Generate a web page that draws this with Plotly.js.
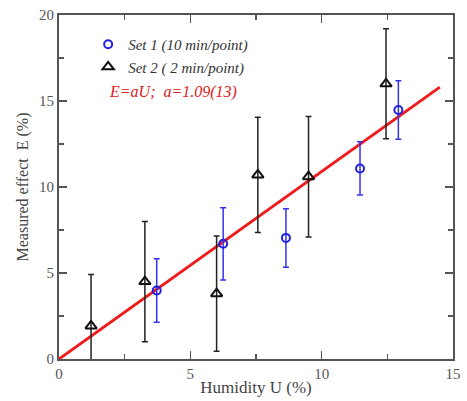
<!DOCTYPE html>
<html><head><meta charset="utf-8">
<script src="https://cdn.plot.ly/plotly-3.0.1.min.js"></script>
<style>html,body{margin:0;padding:0;background:#fff}#c{width:467px;height:401px}</style>
</head><body><div id="c"></div>
<script>
// Set 1 (10 min/point)
const set1U = [3.72, 6.25, 8.64, 11.46, 12.92];
const set1E = [3.98, 6.7, 7.04, 11.08, 14.48];
const set1Err = [1.85, 2.1, 1.7, 1.55, 1.7];
// Set 2 (2 min/point)
const set2U = [1.22, 3.27, 6.0, 7.57, 9.5, 12.45];
const set2E = [1.92, 4.5, 3.8, 10.7, 10.6, 16.0];
const set2Err = [3.0, 3.5, 3.35, 3.35, 3.5, 3.2];
// Fit E = aU
const fitA = 1.09;
const fitU = [0, 14.5];
const fitE = fitU.map(u => fitA * u);

const serif = '"Liberation Serif", "Times New Roman", serif';
const axisCol = '#555';

const traces = [
  {x: fitU, y: fitE, mode: 'lines', line: {color: '#ee1c1c', width: 3}, showlegend: false, hoverinfo: 'skip'},
  {x: set2U, y: set2E, mode: 'markers', name: 'Set 2 ( 2 min/point)',
   marker: {symbol: 'triangle-up-open', size: 10, color: '#111', line: {width: 2, color: '#111'}},
   error_y: {type: 'data', array: set2Err, visible: true, color: '#222', thickness: 1.5, width: 3}},
  {x: set1U, y: set1E, mode: 'markers', name: 'Set 1 (10 min/point)',
   marker: {symbol: 'circle-open', size: 8, color: '#2222dd', line: {width: 2, color: '#2222dd'}},
   error_y: {type: 'data', array: set1Err, visible: true, color: '#3333ee', thickness: 1.5, width: 3}}
];

const layout = {
  width: 467, height: 401,
  margin: {l: 59, r: 14, t: 15, b: 42},
  paper_bgcolor: '#fff', plot_bgcolor: '#fff',
  font: {family: serif, size: 14, color: '#444'},
  showlegend: true,
  legend: {x: 0.074, y: 0.962, xanchor: 'left', yanchor: 'top', traceorder: 'reversed',
    bgcolor: 'rgba(0,0,0,0)', font: {family: serif, size: 15, style: 'italic', color: '#333'}},
  xaxis: {range: [0, 15], dtick: 5, tick0: 0, ticks: 'inside', ticklen: 8, tickwidth: 1.5, tickcolor: axisCol,
    showline: true, linecolor: axisCol, linewidth: 2, mirror: 'ticks', showgrid: false, zeroline: false,
    minor: {dtick: 2.5, ticks: 'inside', ticklen: 5, tickwidth: 1.5, tickcolor: axisCol, showgrid: false},
    tickfont: {family: serif, size: 15, color: '#555'},
    title: {text: 'Humidity U (%)', font: {family: serif, size: 17, color: '#444'}, standoff: 0}},
  yaxis: {range: [0, 20], dtick: 5, tick0: 0, ticks: 'inside', ticklen: 8, tickwidth: 1.5, tickcolor: axisCol,
    showline: true, linecolor: axisCol, linewidth: 2, mirror: 'ticks', showgrid: false, zeroline: false,
    minor: {dtick: 2.5, ticks: 'inside', ticklen: 5, tickwidth: 1.5, tickcolor: axisCol, showgrid: false},
    tickfont: {family: serif, size: 15, color: '#555'},
    title: {text: 'Measured effect  E (%)', font: {family: serif, size: 16, color: '#444'}, standoff: 6}},
  annotations: [{xref: 'paper', yref: 'paper', x: 0.29, y: 0.776, xanchor: 'center', yanchor: 'middle',
    text: 'E=aU;  a=1.09(13)', showarrow: false,
    font: {family: serif, size: 16, style: 'italic', color: '#e02020'}}]
};

Plotly.newPlot('c', traces, layout, {displayModeBar: false, staticPlot: true});
</script>
</body></html>
